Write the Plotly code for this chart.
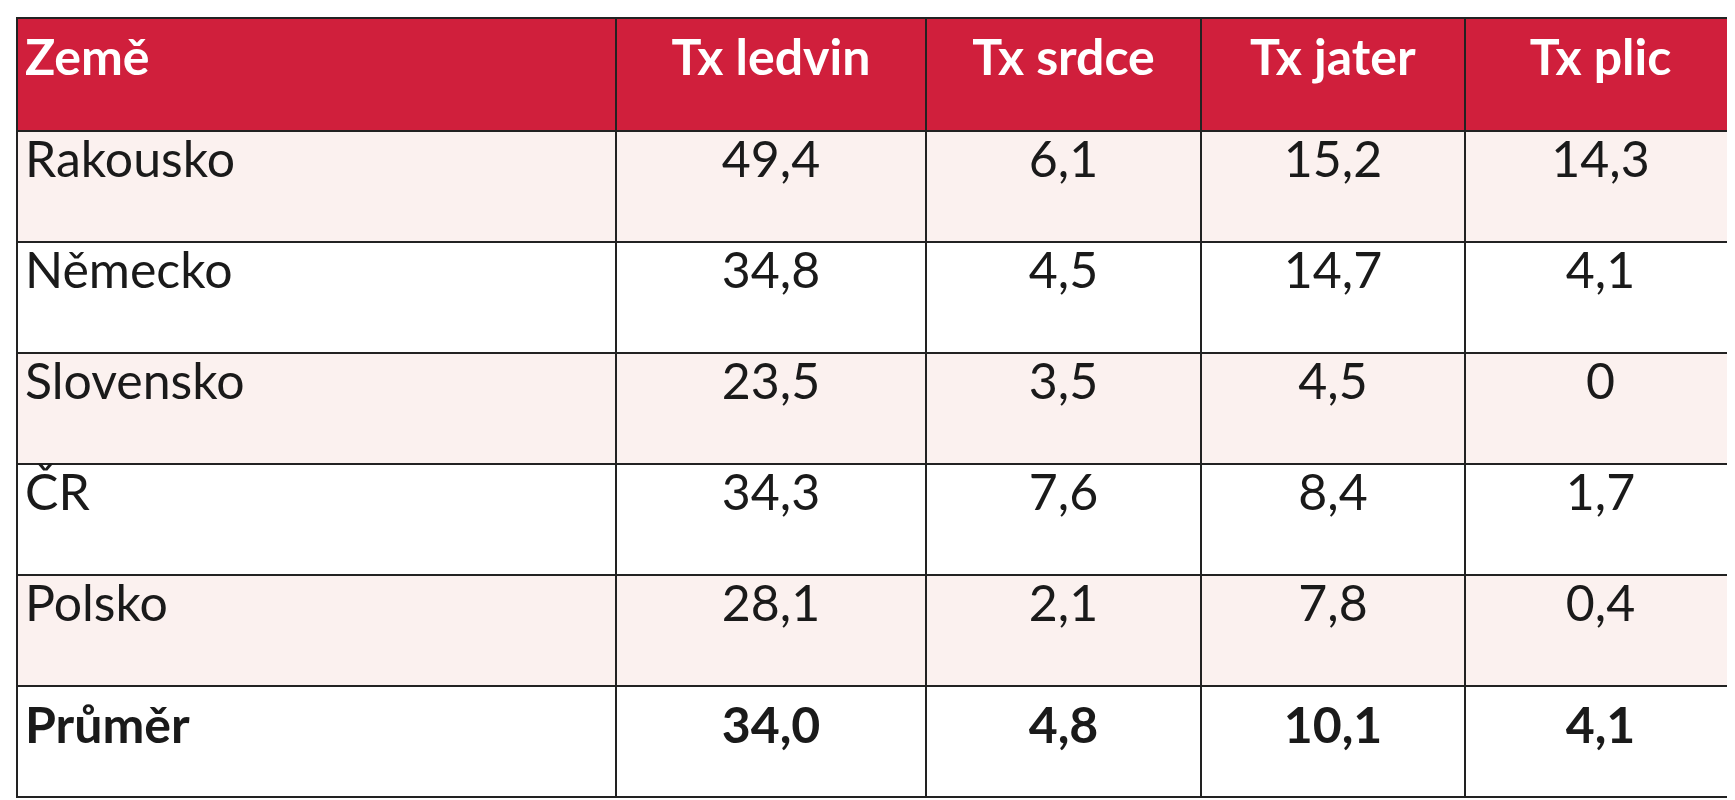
import plotly.graph_objects as go

headers = ["Země", "Tx ledvin", "Tx srdce", "Tx jater", "Tx plic"]
countries = ["Rakousko", "Německo", "Slovensko", "ČR", "Polsko", "Průměr"]
ledvin = ["49,4", "34,8", "23,5", "34,3", "28,1", "34,0"]
srdce = ["6,1", "4,5", "3,5", "7,6", "2,1", "4,8"]
jater = ["15,2", "14,7", "4,5", "8,4", "7,8", "10,1"]
plic = ["14,3", "4,1", "0", "1,7", "0,4", "4,1"]

def bold_last(col):
    return col[:-1] + ["<b>" + col[-1] + "</b>"]

cols = [bold_last(c) for c in [countries, ledvin, srdce, jater, plic]]
fills = ["#FBF1EF", "white", "#FBF1EF", "white", "#FBF1EF", "white"]

fig = go.Figure(go.Table(
    columnwidth=[599, 310, 275, 264, 271],
    header=dict(
        values=["<b>" + h + "</b>" for h in headers],
        fill_color="#D01F3C",
        font=dict(family="Lato", size=50, color="white"),
        align=["left", "center", "center", "center", "center"],
        line=dict(color="#222222", width=2),
        height=113,
    ),
    cells=dict(
        values=cols,
        fill_color=[fills] * 5,
        font=dict(family="Lato", size=50, color="#1a1a1a"),
        align=["left", "center", "center", "center", "center"],
        line=dict(color="#222222", width=2),
        height=111,
    ),
))
fig.update_layout(width=1735, height=800, margin=dict(l=9, r=7, t=10, b=0),
                  paper_bgcolor="white")
fig.write_html("out.html")
